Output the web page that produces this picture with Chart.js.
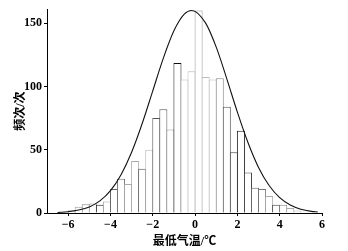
<!DOCTYPE html>
<html>
<head>
<meta charset="utf-8">
<script src="https://cdn.jsdelivr.net/npm/chart.js@4/dist/chart.umd.min.js"></script>
<style>
  body { margin: 0; background: #fff; }
</style>
</head>
<body>
<canvas id="hist" width="348" height="251"></canvas>
<script>
// bin centres (bins are 1/3 degC wide)
const binCenters = [-6.167, -5.833, -5.5, -5.167, -4.833, -4.5, -4.167, -3.833, -3.5, -3.167,
    -2.833, -2.5, -2.167, -1.833, -1.5, -1.167, -0.833, -0.5, -0.167, 0.167,
    0.5, 0.833, 1.167, 1.5, 1.833, 2.167, 2.5, 2.833, 3.167, 3.5,
    3.833, 4.167, 4.5, 4.833, 5.167, 5.5];
const counts = [0.5, 2, 5, 7, 7.5, 6.5, 9, 19, 27, 23,
    41, 35, 50, 75, 82, 66, 118.5, 105.5, 112, 160,
    107.5, 105.5, 106.5, 84, 48, 65, 32, 20, 19, 13.5,
    6.5, 6.5, 4, 2, 1, 0.5];

// fitted normal curve
const curveX = [-6.5, -6, -5.5, -5, -4.5, -4, -3.5, -3, -2.5, -2, -1.5, -1, -0.5, -0.16,
    0.5, 1, 1.5, 2, 2.5, 3, 3.5, 4, 4.5, 5, 5.5, 5.8];
const curveY = [0.4, 1, 2.3, 4.8, 9.6, 17.7, 30.3, 48, 70.7, 96.5, 122.4, 144, 157.3, 160,
    150, 131, 106, 79.7, 55.7, 36, 21.7, 12.1, 6.3, 3, 1.3, 0.8];

const xTicks = [-6, -4, -2, 0, 2, 4, 6];
const yTicks = [0, 50, 100, 150];

const edgeColors = ['#666', '#333', '#999', '#888', '#999', '#222', '#aaa', '#666', '#777', '#aaa',
    '#aaa', '#555', '#bbb', '#555', '#555', '#999', '#111', '#bbb', '#bbb', '#999',
    '#bbb', '#bbb', '#888', '#555', '#444', '#222', '#444', '#666', '#777', '#aaa',
    '#444', '#888', '#aaa', '#bbb', '#999', '#bbb'];

const fontFam = '"Liberation Serif", "Noto Sans CJK SC", serif';
const tickFont = { family: fontFam, size: 12, weight: 'bold' };

new Chart(document.getElementById('hist'), {
    type: 'bar',
    data: {
        datasets: [
            {
                type: 'line',
                data: curveX.map((x, i) => ({ x: x, y: curveY[i] })),
                borderColor: '#111',
                borderWidth: 1.1,
                pointRadius: 0,
                cubicInterpolationMode: 'monotone',
                fill: false,
                order: 0
            },
            {
                type: 'bar',
                data: binCenters.map((x, i) => ({ x: x, y: counts[i] })),
                backgroundColor: '#fff',
                borderColor: edgeColors,
                borderWidth: 1,
                borderSkipped: 'bottom',
                categoryPercentage: 1,
                barPercentage: 1.14,
                order: 1
            }
        ]
    },
    options: {
        responsive: false,
        devicePixelRatio: 1,
        animation: false,
        layout: { padding: { top: 8, right: 26, left: 0, bottom: 0 } },
        plugins: { legend: { display: false }, tooltip: { enabled: false } },
        scales: {
            x: {
                type: 'linear',
                offset: false,
                min: -7,
                max: 6,
                afterBuildTicks: s => { s.ticks = xTicks.map(v => ({ value: v })); },
                afterFit: s => { s.height = 38; },
                grid: { offset: false, drawOnChartArea: false, tickLength: 3, color: '#000' },
                border: { color: '#000' },
                ticks: {
                    font: tickFont, color: '#000', padding: 2, maxRotation: 0,
                    callback: v => (v < 0 ? '\u2212' + Math.abs(v) : String(v))
                },
                title: {
                    display: true,
                    text: '最低气温/℃',
                    color: '#000',
                    font: { family: fontFam, size: 12, weight: 'bold' },
                    padding: { top: 0, bottom: 2 }
                }
            },
            y: {
                min: 0,
                max: 161,
                afterBuildTicks: s => { s.ticks = yTicks.map(v => ({ value: v })); },
                afterFit: s => { s.width = 47; },
                grid: { drawOnChartArea: false, tickLength: 3, color: '#000' },
                border: { color: '#000' },
                ticks: { font: tickFont, color: '#000', padding: 2 },
                title: {
                    display: true,
                    text: '频次/次',
                    color: '#000',
                    font: { family: fontFam, size: 12, weight: 'bold' },
                    padding: { top: 14, bottom: 0 }
                }
            }
        }
    }
});
</script>
</body>
</html>
